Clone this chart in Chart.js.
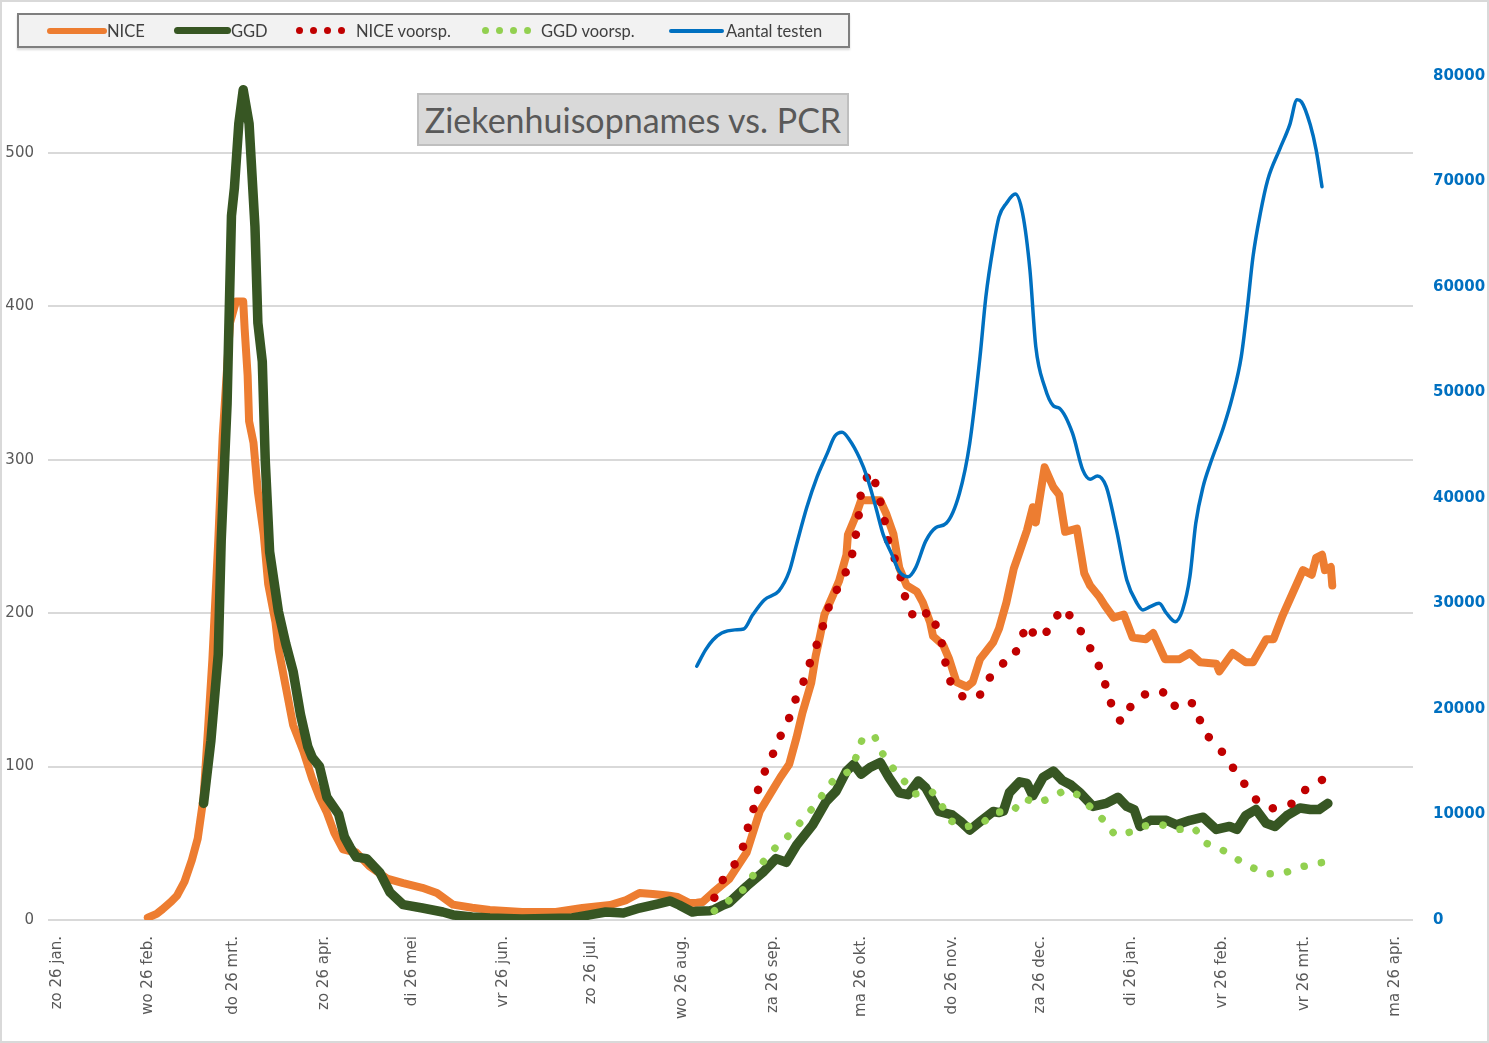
<!DOCTYPE html>
<html>
<head>
<meta charset="utf-8">
<title>Ziekenhuisopnames vs. PCR</title>
<script src="https://cdn.jsdelivr.net/npm/chart.js@4.4.1/dist/chart.umd.min.js"></script>
<style>
    body { margin: 0; background: #fff; }
    #wrap { position: relative; width: 1489px; height: 1043px; overflow: hidden; }
    #chart { position: absolute; left: 0; top: 0; }
    #frame { position: absolute; left: 0; top: 0; width: 1489px; height: 1043px; box-sizing: border-box; border: 2px solid #d9d9d9; pointer-events: none; }
    #legend { position: absolute; left: 17px; top: 13px; width: 833px; height: 35px; box-sizing: border-box; border: 2px solid #7f7f7f; background: #f2f2f2; box-shadow: 0 2px 2px rgba(0,0,0,0.15); }
    .lg-line { position: absolute; border-radius: 4px; }
    .lg-dot { position: absolute; border-radius: 50%; }
    .lg-text { position: absolute; top: 6px; height: 20px; line-height: 20px; font-family: Lato, sans-serif; font-size: 16.5px; color: #404040; white-space: nowrap; }
    #title { position: absolute; left: 417px; top: 93px; width: 432px; height: 53px; box-sizing: border-box; border: 2px solid #bfbfbf; background: #d9d9d9; font-family: Lato, sans-serif; font-size: 34px; color: #595959; text-align: center; line-height: 49px; white-space: nowrap; }
</style>
</head>
<body>
<div id="wrap">
    <canvas id="chart" width="1489" height="1043"></canvas>
    <div id="legend"></div>
    <div id="title">Ziekenhuisopnames vs. PCR</div>
    <div id="frame"></div>
</div>
<script>
// x = days since Sunday 26 January 2020
const tickDays = [0, 31, 60, 91, 121, 152, 182, 213, 244, 274, 305, 335, 366, 397, 425, 456];
const tickLabels = ['zo 26 jan.', 'wo 26 feb.', 'do 26 mrt.', 'zo 26 apr.', 'di 26 mei', 'vr 26 jun.', 'zo 26 jul.', 'wo 26 aug.',
    'za 26 sep.', 'ma 26 okt.', 'do 26 nov.', 'za 26 dec.', 'di 26 jan.', 'vr 26 feb.', 'vr 26 mrt.', 'ma 26 apr.'];
const leftTicks = [0, 100, 200, 300, 400, 500];
const rightTicks = [0, 10000, 20000, 30000, 40000, 50000, 60000, 70000, 80000];

// NICE hospital admissions
const niceDays = [31, 34, 36, 39, 41, 43.5, 46, 48, 50, 51.5, 53, 55, 56.5, 59, 61, 63.5, 64, 65, 65.5, 67, 68.5, 70.5, 72, 74.5, 75.5, 78, 80.5, 84, 87, 89.5,
    92, 94.5, 97.5, 102, 106.5, 112.5, 118, 124.5, 129.5, 135, 141.5, 147.5, 158.5, 170, 179, 188.5, 194, 198.5, 203, 208, 211.5, 215.5, 218, 220,
    223.5, 229, 235, 239.5, 243, 246.5, 249.5, 252, 254, 257, 258.5, 260, 261.5, 264.5, 266.5, 269, 269.5, 272, 274, 277, 280.5, 282.5, 285, 287,
    289.5, 293, 295, 297.5, 298.5, 302, 304, 306.5, 310, 312, 314.5, 319, 321, 323.5, 326, 328, 330.5, 332.5, 333.5, 336.5, 339.5, 341.5, 343.5,
    347.5, 350, 352, 355, 357, 360, 363.5, 366.5, 371, 373.5, 377.5, 382.5, 386, 389.5, 395, 396, 400.5, 405, 407.5, 412, 414.5, 417.5, 421, 424.5,
    427.5, 429, 431, 432, 434, 434.5];
const niceValues = [1.5, 4, 7, 12, 16, 25, 39, 53, 80, 124, 170, 247, 315, 389, 403, 403, 385, 355, 325, 311, 279, 251, 219, 194, 177, 152, 127, 110, 92, 80,
    70, 57, 46, 44, 35, 27, 24, 21, 17.6, 10, 8, 6.5, 5.2, 5.2, 7.8, 9.8, 13, 17.6, 17, 16, 15, 11, 11.2, 11.7,
    17.8, 26.6, 44, 71, 82, 93, 101.5, 119, 135, 154.5, 172, 185, 199, 212, 221, 238, 251, 262.5, 273.5, 273.5, 273.5, 265, 251.5, 229.5,
    218, 214, 207, 194, 185, 179, 170, 155, 152, 155, 170, 181, 190, 207, 229, 240, 254, 269, 259, 295, 282, 277, 253,
    255, 226, 218, 211, 205, 197, 199, 184, 183, 187, 170, 170, 174, 168, 167, 162, 174, 168, 168, 183, 183, 198, 213, 228,
    225, 236, 238, 228, 230, 218];

// GGD hospital admissions
const ggdDays = [50, 52.5, 55, 56, 58, 59.5, 60.5, 62, 63.5, 65.5, 67.5, 68.5, 70, 71, 72.5, 75.5, 78, 80.5, 83, 85.5, 87, 89.5, 92, 96, 98, 100, 102,
    105.5, 110, 113.5, 118, 124.5, 131.5, 135, 141.5, 147.5, 158.5, 175.5, 181.5, 187, 193, 198.5, 204.5, 209, 212, 216.5, 218, 222.5, 224, 227,
    229, 235, 240.5, 245, 248.5, 252, 257.5, 262, 265.5, 269, 271.5, 274, 277, 280.5, 283.5, 287, 290, 293.5, 296, 300.5, 305, 308, 311, 314.5,
    319, 321, 322.5, 324.5, 328, 330.5, 332.5, 336, 339.5, 342.5, 345.5, 348.5, 353, 357.5, 361.5, 364.5, 367, 369, 372.5, 378, 381.5, 386,
    390.5, 395, 399.5, 402, 405, 408.5, 412, 415, 419, 423.5, 427, 430, 433];
const ggdValues = [76, 117, 173, 247, 336, 459, 477, 519, 541, 519, 452, 389, 364, 300, 240, 201, 180, 162, 134, 113, 106, 100, 80, 69, 54, 47, 41,
    40, 31, 18, 10, 7.8, 5.2, 3.3, 2, 1.3, 0.7, 1.3, 3.3, 5.2, 4.6, 7.8, 10.4, 12.4, 9.8, 5.2, 5.7, 6, 6.8, 9.8,
    11.2, 22, 31, 40, 37.6, 48.7, 62, 77, 84, 97, 101.5, 95, 99.4, 102.7, 92.8, 82.8, 81.7, 90.6, 86.2, 70.7, 68.5, 64, 58.6, 64,
    70.7, 70, 71, 83, 90, 89, 81, 93, 97, 91, 88, 83, 74, 76, 80, 74, 72, 61, 65, 65, 62, 65,
    67, 59, 61, 59, 68, 72, 63, 61, 68, 73, 72, 72, 76];

// NICE forecast
const niceForecastDays = [224, 227, 231, 234, 235.5, 237.5, 239, 241.5, 244.5, 247, 250, 252, 255, 257, 259.5, 261.5, 263.5, 266.5, 269.5, 271.5,
    272.5, 273.5, 274, 277, 279.5, 281, 282.5, 283.5, 286.5, 288, 289.5, 292.5, 297.5, 300, 302, 303, 305, 309.5, 314.5, 318, 322, 325.5,
    328, 330.5, 334, 337, 340.5, 343, 346, 349.5, 352.5, 355.5, 357.5, 359.5, 362.5, 366, 370, 376.5, 380, 385.5, 388.5, 390, 394, 398,
    401.5, 405.5, 409.5, 415, 421, 425.5, 430.5, 436];
const niceForecastValues = [14.5, 26.6, 36.5, 48.7, 60.8, 73.4, 85.7, 98.3, 110.4, 122, 133.6, 145.7, 157.8, 170.4, 182.5, 194.6, 207.4, 218, 229.5, 242,
    254.8, 268, 280.8, 292.3, 282, 268.7, 256, 243.3, 231.2, 219, 206.3, 195.3, 201.5, 189.3, 177.2, 164, 152, 144, 146.8, 158.5, 167, 169,
    181, 192.7, 183.2, 187.3, 197.7, 203.6, 196, 186.4, 175.4, 163.4, 151.5, 139, 129, 139.7, 146.7, 149.5, 139, 143.4, 138, 125.4, 115.2, 107.6,
    96.7, 86.3, 76, 72.3, 76, 85.2, 90.8, 96];

// GGD forecast
const ggdForecastDays = [224, 229, 234, 237.5, 241, 245, 249.5, 253.5, 257.5, 261, 264.5, 270, 272.5, 274.5, 278.5, 281, 284.5, 288.5, 292, 298,
    301.5, 304.5, 310, 315.5, 320, 325.5, 329.5, 334, 339, 343.5, 348, 352.5, 356.5, 360.5, 365.5, 370.5, 376.5, 382, 387.5, 391, 396.5,
    401.5, 407, 412, 418, 423.5, 429.5, 435.5];
const ggdForecastValues = [6, 12.7, 20, 30, 38.8, 47.6, 55.3, 64, 73, 82, 91, 97, 107, 118.6, 120, 109.3, 99.8, 91, 82, 84,
    74.5, 64.6, 60.8, 63.5, 70.3, 70.6, 79.3, 76, 80, 84.7, 81.5, 72.8, 65.2, 55.4, 57.2, 61.3, 62, 59, 60, 50.4, 46.3,
    40.2, 34.4, 30, 30.5, 34.4, 37, 38.7];

// number of PCR tests (right axis)
const testDays = [218, 221, 223.5, 226.5, 231, 234, 237, 241, 246, 249.5, 252, 255.5, 259, 262.5, 265, 267.5, 270, 273.5, 276, 279, 281.5, 284.5,
    287, 290, 292.5, 296, 299.5, 303, 307.5, 311, 314.5, 316.5, 319, 321, 323.5, 326.5, 329, 331.5, 333.5, 336.5, 339.5, 341.5, 346, 349.5,
    352, 354.5, 357.5, 361, 364.5, 368, 370, 372.5, 375.5, 378, 381, 383.5, 386, 388, 390.5, 393, 397.5, 400.5, 403.5, 405.5, 407.5, 410,
    412.5, 416.5, 420, 422.5, 424, 427, 429, 431];
const testValues = [24050, 25600, 26540, 27200, 27500, 27580, 28900, 30340, 31200, 33030, 35600, 39120, 42000, 44250, 45850, 46230, 45530, 43770,
    42000, 39120, 36550, 34630, 33030, 32540, 33350, 35910, 37200, 37600, 40450, 45190, 53400, 59090, 63830, 66670, 67940, 68820, 66990,
    61620, 54350, 50560, 48730, 48510, 46140, 42660, 41780, 42090, 41080, 36970, 32230, 30020, 29390, 29700, 30020, 29080, 28280, 29390,
    32550, 37600, 41080, 43290, 46760, 49610, 53400, 57830, 62880, 66990, 70150, 73000, 75370, 77740, 77550, 75370, 73000, 69500];

const colors = {nice: '#ed7d31', ggd: '#375623', niceForecast: '#c00000', ggdForecast: '#92d050', tests: '#0070c0'};

function points(days, values) {
    return days.map((d, i) => ({x: d, y: values[i]}));
}

// legend, drawn as html next to the canvas
const legendItems = [
    {type: 'line', color: colors.nice, x: 28, w: 60, h: 6, text: 'NICE', tx: 88},
    {type: 'line', color: colors.ggd, x: 155, w: 57, h: 7, text: 'GGD', tx: 212},
    {type: 'dots', color: colors.niceForecast, x: 277, size: 7, text: 'NICE voorsp.', tx: 337},
    {type: 'dots', color: colors.ggdForecast, x: 463, size: 7, text: 'GGD voorsp.', tx: 522},
    {type: 'line', color: colors.tests, x: 650, w: 55, h: 4, text: 'Aantal testen', tx: 707}
];
const legendEl = document.getElementById('legend');
legendItems.forEach(item => {
    if (item.type === 'line') {
        let el = document.createElement('div');
        el.className = 'lg-line';
        el.style.cssText = `left:${item.x}px;top:${15.5 - item.h / 2}px;width:${item.w}px;height:${item.h}px;background:${item.color}`;
        legendEl.appendChild(el);
    } else {
        for (let k = 0; k < 4; k++) {
            let el = document.createElement('div');
            el.className = 'lg-dot';
            el.style.cssText = `left:${item.x + k * 14}px;top:${15.5 - item.size / 2}px;width:${item.size}px;height:${item.size}px;background:${item.color}`;
            legendEl.appendChild(el);
        }
    }
    let t = document.createElement('div');
    t.className = 'lg-text';
    t.style.left = item.tx + 'px';
    t.textContent = item.text;
    legendEl.appendChild(t);
});

let ctx = document.getElementById('chart').getContext('2d');

let chart = new Chart(ctx, {
    type: 'line',
    data: {
        datasets: [{
            label: 'Aantal testen',
            data: points(testDays, testValues),
            yAxisID: 'y2',
            borderColor: colors.tests,
            borderWidth: 3.5,
            cubicInterpolationMode: 'monotone',
            order: 0
        }, {
            label: 'NICE voorsp.',
            data: points(niceForecastDays, niceForecastValues),
            yAxisID: 'y',
            borderColor: colors.niceForecast,
            borderWidth: 8.5,
            borderDash: [0.1, 19.5],
            borderCapStyle: 'round',
            order: 1
        }, {
            label: 'GGD voorsp.',
            data: points(ggdForecastDays, ggdForecastValues),
            yAxisID: 'y',
            borderColor: colors.ggdForecast,
            borderWidth: 7.5,
            borderDash: [0.1, 17.5],
            borderCapStyle: 'round',
            order: 2
        }, {
            label: 'GGD',
            data: points(ggdDays, ggdValues),
            yAxisID: 'y',
            borderColor: colors.ggd,
            borderWidth: 9.5,
            order: 3
        }, {
            label: 'NICE',
            data: points(niceDays, niceValues),
            yAxisID: 'y',
            borderColor: colors.nice,
            borderWidth: 8,
            order: 4
        }]
    },
    options: {
        responsive: false,
        animation: false,
        layout: {padding: {top: 76, left: 0, right: 0, bottom: 0}},
        plugins: {legend: {display: false}, tooltip: {enabled: false}},
        elements: {
            point: {radius: 0},
            line: {tension: 0, borderJoinStyle: 'round', borderCapStyle: 'round'}
        },
        scales: {
            x: {
                type: 'linear', min: -3, max: 462,
                grid: {display: false}, border: {display: false},
                afterBuildTicks: scale => { scale.ticks = tickDays.map(v => ({value: v})); },
                afterFit: scale => { scale.height = 123; },
                ticks: {
                    autoSkip: false, minRotation: 90, maxRotation: 90, padding: 8,
                    color: '#595959', font: {family: 'DejaVu Sans', size: 15},
                    callback: (value, index) => tickLabels[index]
                }
            },
            y: {
                position: 'left', min: 0, max: 550,
                afterBuildTicks: scale => { scale.ticks = leftTicks.map(v => ({value: v})); },
                afterFit: scale => { scale.width = 48; },
                grid: {color: '#d9d9d9', lineWidth: 2, drawTicks: false},
                border: {display: false},
                ticks: {padding: 14, color: '#595959', font: {family: 'DejaVu Sans', size: 15}, callback: value => String(value)}
            },
            y2: {
                position: 'right', min: 0, max: 80000,
                afterBuildTicks: scale => { scale.ticks = rightTicks.map(v => ({value: v})); },
                afterFit: scale => { scale.width = 76; },
                grid: {display: false, drawTicks: false},
                border: {display: false},
                ticks: {
                    padding: 20, color: '#0070c0', font: {family: 'DejaVu Sans', size: 15, weight: 'bold'},
                    callback: value => String(value)
                }
            }
        }
    }
});
</script>
</body>
</html>
